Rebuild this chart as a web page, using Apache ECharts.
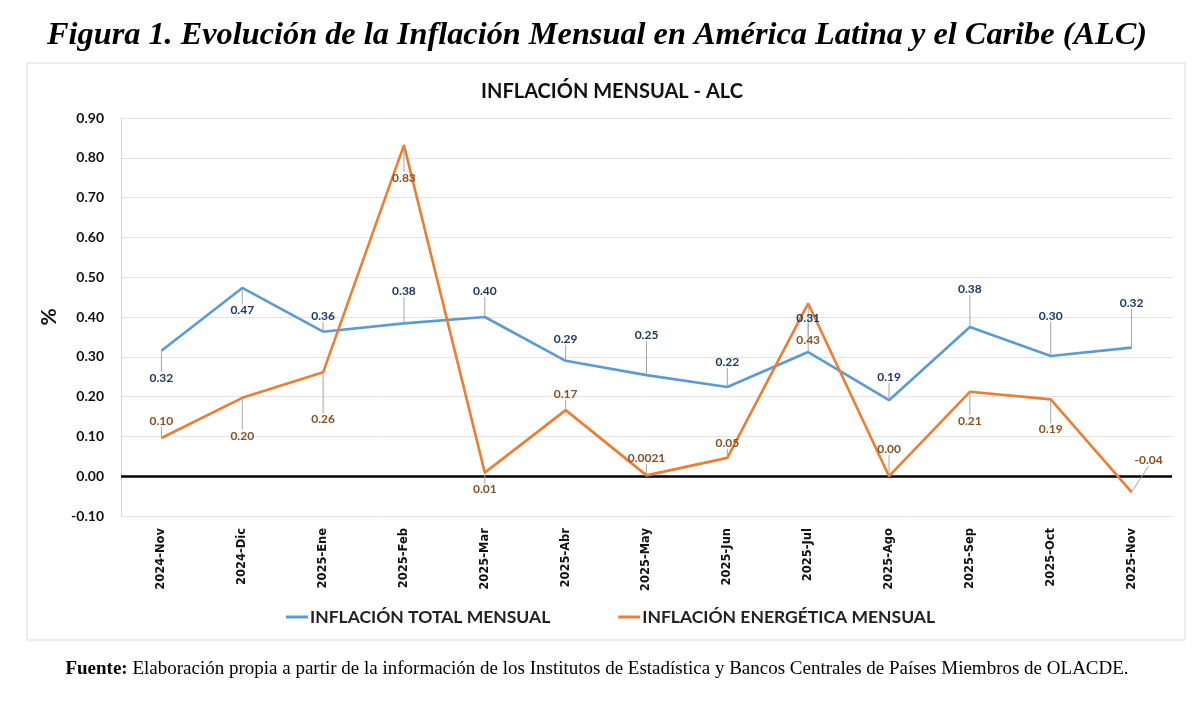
<!DOCTYPE html>
<html>
<head>
<meta charset="utf-8">
<script src="https://cdn.jsdelivr.net/npm/echarts@6/dist/echarts.min.js"></script>
<style>
  html, body { margin: 0; padding: 0; background: #fff; }
  #chart { width: 1194px; height: 716px; }
</style>
</head>
<body>
<div id="chart"></div>
<script>
// months shown on the category axis
const months = [
  "2024-Nov", "2024-Dic", "2025-Ene", "2025-Feb", "2025-Mar", "2025-Abr", "2025-May",
  "2025-Jun", "2025-Jul", "2025-Ago", "2025-Sep", "2025-Oct", "2025-Nov",
];
// monthly inflation, %
const totalInflation = [0.315, 0.473, 0.363, 0.384, 0.400, 0.290, 0.254, 0.224, 0.312, 0.191, 0.375, 0.302, 0.323];
const energyInflation = [0.096, 0.197, 0.261, 0.832, 0.009, 0.166, 0.0021, 0.046, 0.434, 0.0, 0.212, 0.193, -0.04];
const yTicks = { min: -0.1, max: 0.9, step: 0.1 };

// where each data label sits relative to its point (px), like the excel leader labels
const totalLabelShift = [[0, 27], [0, 22], [0, -16], [0, -32], [0, -26], [0, -22], [0, -40], [0, -25], [0, -34], [0, -23], [0, -38], [0, -40], [0, -45]];
const energyLabelShift = [[0, -17], [0, 38], [0, 47], [0, 33], [0, 17], [0, -16], [0, -17], [0, -15], [0, 37], [0, -27], [0, 29], [0, 30], [17, -32]];

const BLUE = "#5B9BD5";
const ORANGE = "#ED7D31";
const SANS = "Lato, 'Open Sans', sans-serif";
const SERIF = "'Liberation Serif', serif";

const fmtValue = (v) => (v !== 0 && Math.abs(v) < 0.005 ? String(v) : v.toFixed(2));

const makeSeries = (name, data, color, labelColor, shift) => ({
  name,
  type: "line",
  data,
  symbol: "circle",
  symbolSize: 1,
  itemStyle: { color },
  lineStyle: { color, width: 2.6 },
  label: {
    show: true,
    position: "inside",
    color: labelColor,
    fontFamily: SANS,
    fontWeight: "bold",
    fontSize: 12,
    formatter: (p) => fmtValue(p.value),
  },
  labelLine: { show: true, lineStyle: { color: "#a6a6a6", width: 1 } },
  labelLayout: (p) => ({ dx: shift[p.dataIndex][0], dy: shift[p.dataIndex][1] }),
});

const initChart = (target) => {
  const myChart = echarts.init(target);
  const option = {
    backgroundColor: "#fff",
    animation: false,
    title: [
      {
        text: "Figura 1. Evolución de la Inflación Mensual en América Latina y el Caribe (ALC)",
        left: "center",
        top: 15,
        textStyle: {
          fontFamily: SERIF,
          fontStyle: "italic",
          fontWeight: "bold",
          fontSize: 32.3,
          color: "#000",
        },
      },
      {
        text: "INFLACIÓN MENSUAL - ALC",
        left: 607,
        textAlign: "center",
        top: 77,
        textStyle: { fontFamily: SANS, fontWeight: "bold", fontSize: 20, color: "#111" },
      },
      {
        text: "{b|Fuente:} Elaboración propia a partir de la información de los Institutos de Estadística y Bancos Centrales de Países Miembros de OLACDE.",
        left: "center",
        top: 655,
        textStyle: {
          fontFamily: SERIF,
          fontSize: 19,
          fontWeight: "normal",
          color: "#000",
          rich: {
            b: { fontFamily: SERIF, fontSize: 19, fontWeight: "bold", color: "#000" },
          },
        },
      },
    ],
    graphic: [
      {
        type: "rect",
        shape: { x: 27, y: 63, width: 1158, height: 577 },
        style: { fill: "none", stroke: "#d9d9d9", lineWidth: 1 },
        silent: true,
      },
    ],
    legend: {
      top: 608,
      left: 286,
      padding: 0,
      itemGap: 68,
      icon: "rect",
      itemWidth: 22,
      itemHeight: 3,
      textStyle: { fontFamily: SANS, fontWeight: "bold", fontSize: 17.5, color: "#222", padding: [0, 0, 0, -3] },
    },
    grid: { left: 121, right: 22, top: 118, bottom: 200 },
    xAxis: {
      type: "category",
      data: months,
      boundaryGap: true,
      axisLine: { show: false },
      axisTick: { show: false },
      axisLabel: {
        rotate: 90,
        margin: 12,
        interval: 0,
        fontFamily: "'DejaVu Sans', sans-serif",
        fontWeight: "bold",
        fontSize: 11.5,
        color: "#111",
      },
    },
    yAxis: {
      type: "value",
      min: yTicks.min,
      max: yTicks.max,
      interval: yTicks.step,
      name: "%",
      nameLocation: "middle",
      nameRotate: 90,
      nameGap: 56,
      nameTextStyle: { fontFamily: SANS, fontWeight: "bold", fontSize: 21, color: "#111" },
      axisLine: { show: true, lineStyle: { color: "#d9d9d9" } },
      axisTick: { show: false },
      splitLine: { lineStyle: { color: "#e3e3e3", width: 1 } },
      axisLabel: {
        margin: 17,
        fontFamily: SANS,
        fontWeight: "bold",
        fontSize: 14,
        color: "#111",
        formatter: (v) => v.toFixed(2),
      },
    },
    series: [
      {
        ...makeSeries("INFLACIÓN TOTAL MENSUAL", totalInflation, BLUE, "#1f3864", totalLabelShift),
        markLine: {
          silent: true,
          symbol: "none",
          label: { show: false },
          lineStyle: { color: "#000", width: 2.5, type: "solid" },
          data: [{ yAxis: 0 }],
          z: 1,
        },
      },
      makeSeries("INFLACIÓN ENERGÉTICA MENSUAL", energyInflation, ORANGE, "#8a4f22", energyLabelShift),
    ],
  };
  option && myChart.setOption(option);
  return myChart;
};

initChart(document.getElementById("chart"));
</script>
</body>
</html>
